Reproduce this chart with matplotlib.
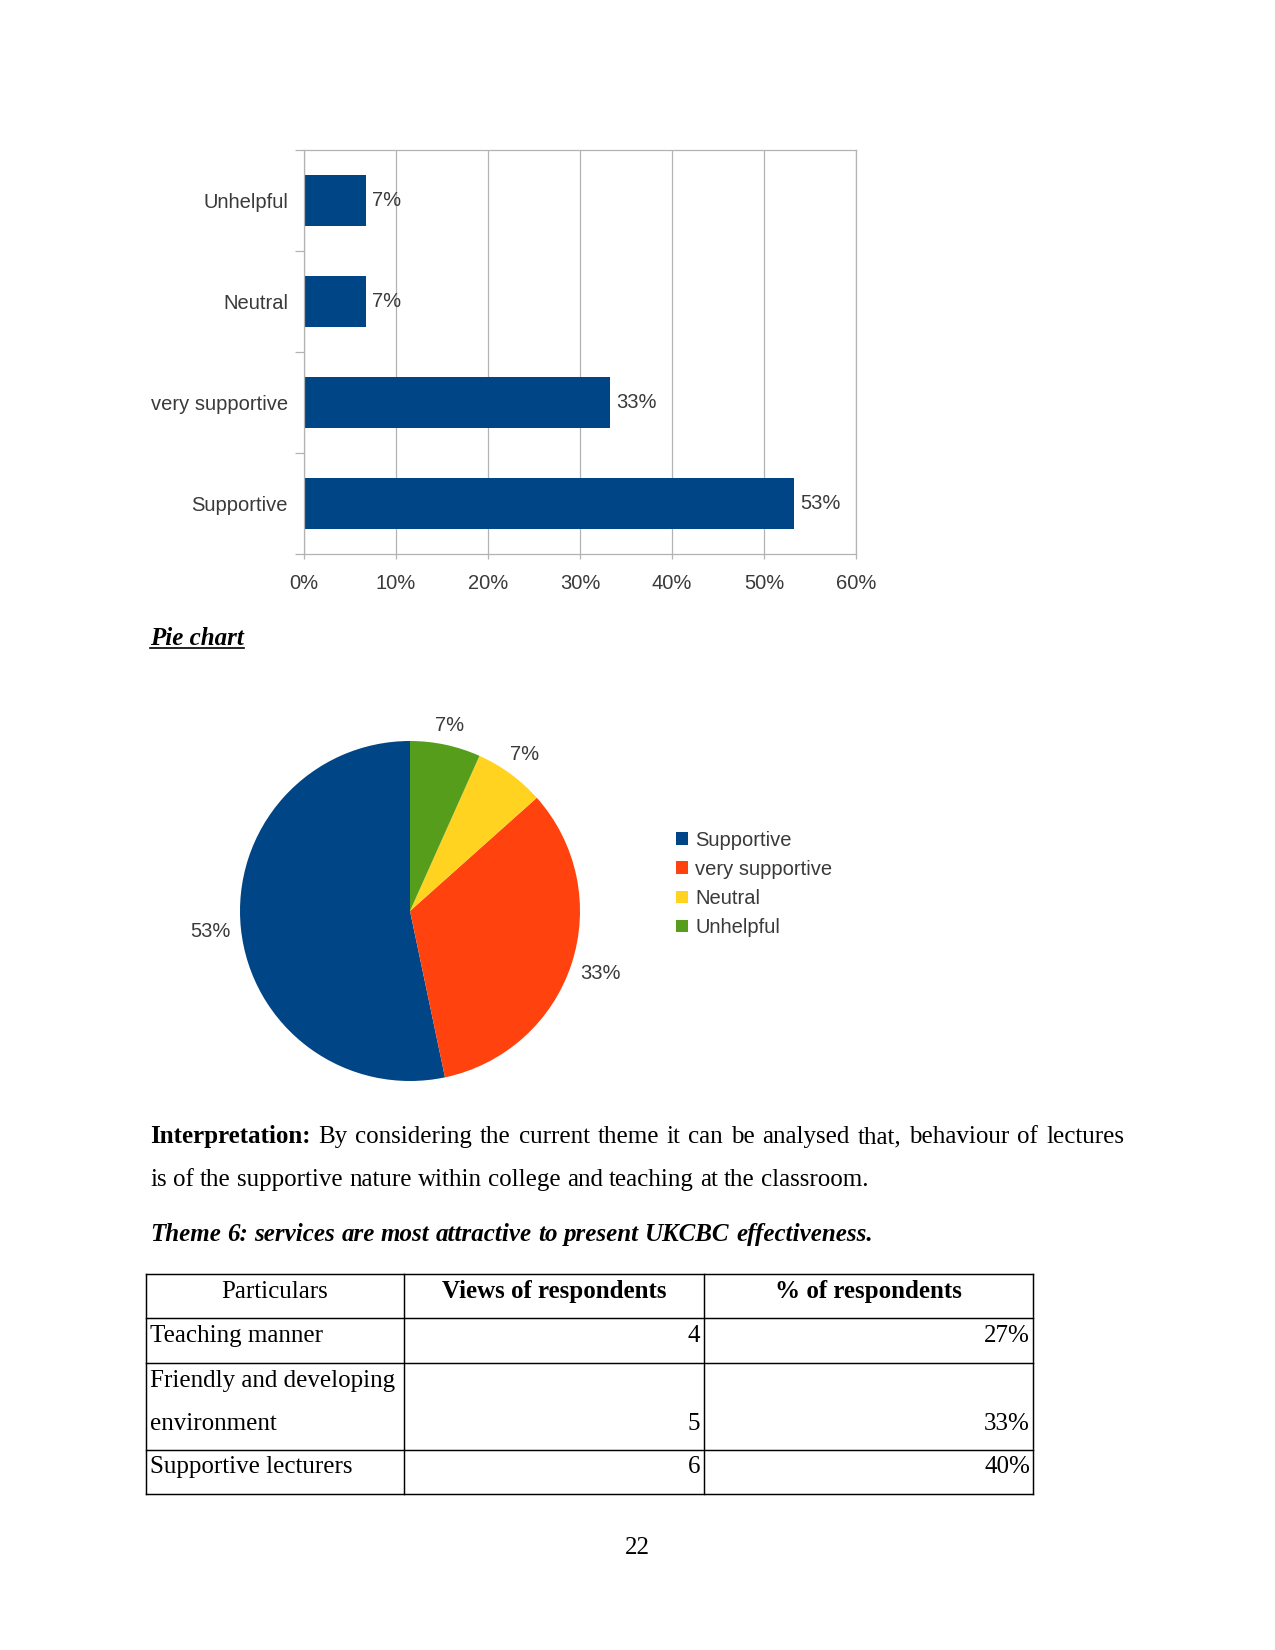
import numpy as np
import matplotlib
matplotlib.use('Agg')
import matplotlib.pyplot as plt
from matplotlib.ticker import PercentFormatter

# chart data
categories = ['Supportive', 'very supportive', 'Neutral', 'Unhelpful']
shares = [0.533, 0.333, 0.067, 0.067]
colors = ['#004586', '#ff420e', '#ffd320', '#579d1c']
x_ticks = [0, 0.1, 0.2, 0.3, 0.4, 0.5, 0.6]

# table data
headers = ['Particulars', 'Views of respondents', '% of respondents']
particulars = ['Teaching manner', 'Friendly and developing\nenvironment', 'Supportive lecturers']
views = [4, 5, 6]
pct_resp = ['27%', '33%', '40%']

W, H = 1275, 1650
SANS = 'Liberation Sans'
SERIF = 'Liberation Serif'
GREY = '#3a3a3a'
LINE = '#b3b3b3'
FS = 9.7


def box(l, t, r, b):
    return [l / W, 1 - b / H, (r - l) / W, (b - t) / H]


fig = plt.figure(figsize=(W / 150, H / 150), dpi=150)
fig.patch.set_facecolor('white')

# page layer in pixel coordinates (y down)
page = fig.add_axes([0, 0, 1, 1])
page.set_xlim(0, W)
page.set_ylim(H, 0)
page.axis('off')
page.patch.set_visible(False)

# ---- bar chart ----
ax = fig.add_axes(box(304, 150, 856, 554))
y_pos = np.arange(len(categories))
bars = ax.barh(y_pos, shares, height=0.5, color=colors[0])
ax.bar_label(bars, labels=[f'{v:.0%}' for v in shares], padding=3,
             fontsize=FS, color=GREY, family=SANS)
ax.set_xlim(0, 0.6)
ax.set_ylim(-0.5, len(categories) - 0.5)
ax.set_xticks(x_ticks)
ax.xaxis.set_major_formatter(PercentFormatter(1.0, decimals=0))
ax.set_yticks(y_pos, categories)
ax.set_yticks(np.arange(-0.5, len(categories), 1), minor=True)
ax.tick_params(axis='y', which='major', length=0, pad=7.7)
ax.tick_params(axis='y', which='minor', length=4.3, width=0.6, color=LINE)
ax.tick_params(axis='x', length=2.5, width=0.6, color=LINE, pad=7)
for lab in ax.get_xticklabels() + ax.get_yticklabels():
    lab.set_fontfamily(SANS)
    lab.set_fontsize(FS)
    lab.set_color(GREY)
ax.grid(axis='x', color=LINE, linewidth=0.6)
ax.set_axisbelow(True)
for sp in ax.spines.values():
    sp.set_color(LINE)
    sp.set_linewidth(0.6)

# ---- pie chart ----
ax2 = fig.add_axes(box(240, 741, 580, 1081))
wedges, _, autotexts = ax2.pie(
    shares, colors=colors, startangle=90, counterclock=True,
    autopct='%.0f%%', pctdistance=1.16, wedgeprops=dict(linewidth=0),
    textprops=dict(color=GREY, fontsize=FS, family=SANS))
ax2.set_xlim(-1, 1)
ax2.set_ylim(-1, 1)
ax2.legend(wedges, categories, loc='center left',
           bbox_to_anchor=(676 / W, 1 - 884 / H), bbox_transform=fig.transFigure,
           frameon=False, handlelength=0.6, handleheight=0.6, handletextpad=0.35,
           labelspacing=0.5, borderpad=0, borderaxespad=0,
           prop=dict(family=SANS, size=FS), labelcolor=GREY)

renderer = fig.canvas.get_renderer()

# keep a constant gap between the pie edge and each label box
px_per_unit = 170.0
for w, txt in zip(wedges, autotexts):
    th = np.deg2rad((w.theta1 + w.theta2) / 2)
    bb = txt.get_window_extent(renderer)
    hw = bb.width / 2 / px_per_unit
    hh = bb.height / 2 / px_per_unit * 0.8
    d = 1 + 0.055 + hw * abs(np.cos(th)) + hh * abs(np.sin(th))
    txt.set_position((d * np.cos(th), d * np.sin(th)))

# ---- text ----


def word_row(words, x0, y, x1=None, size=12):
    objs = []
    for w, weight, style in words:
        objs.append(page.text(x0, y, w, family=SERIF, fontsize=size, weight=weight,
                              style=style, va='baseline', ha='left'))
    widths = [t.get_window_extent(renderer).width for t in objs]
    if x1 is None:
        gap = size * 150 / 72 * 0.25
    else:
        gap = (x1 - x0 - sum(widths)) / (len(objs) - 1)
    x = x0
    for t, wd in zip(objs, widths):
        t.set_x(x)
        x += wd + gap
    return objs


t = page.text(150, 645, 'Pie chart', family=SERIF, fontsize=12, weight='bold',
              style='italic', va='baseline', ha='left')
wd = t.get_window_extent(renderer).width
page.plot([150, 150 + wd], [648, 648], color='black', lw=0.8)

line1 = [('Interpretation:', 'bold', 'normal')] + [
    (w, 'normal', 'normal') for w in
    'By considering the current theme it can be analysed that, behaviour of lectures'.split()]
word_row(line1, 150, 1143, x1=1124)
line2 = [(w, 'normal', 'normal') for w in
         'is of the supportive nature within college and teaching at the classroom.'.split()]
word_row(line2, 150, 1186)
line3 = [(w, 'bold', 'italic') for w in
         'Theme 6: services are most attractive to present UKCBC effectiveness.'.split()]
word_row(line3, 150, 1241)

# ---- table ----
col_x = [146, 404, 704, 1033]
row_y = [1274, 1318, 1363, 1450, 1494]
for yy in row_y:
    page.plot([col_x[0], col_x[-1]], [yy, yy], color='black', lw=0.7)
for xx in col_x:
    page.plot([xx, xx], [row_y[0], row_y[-1]], color='black', lw=0.7)

for i, h in enumerate(headers):
    page.text((col_x[i] + col_x[i + 1]) / 2, 1298, h, family=SERIF, fontsize=12,
              weight='normal' if i == 0 else 'bold', ha='center', va='baseline')

first_base = [1342, 1387, 1473]
for i, name in enumerate(particulars):
    lines = name.split('\n')
    for k, ln in enumerate(lines):
        page.text(150, first_base[i] + k * 43, ln, family=SERIF, fontsize=12,
                  ha='left', va='baseline')
    yb = first_base[i] + (len(lines) - 1) * 43
    page.text(col_x[2] - 4, yb, str(views[i]), family=SERIF, fontsize=12,
              ha='right', va='baseline')
    page.text(col_x[3] - 3, yb, pct_resp[i], family=SERIF, fontsize=12,
              ha='right', va='baseline')

page.text(637, 1554, '22', family=SERIF, fontsize=12, ha='center', va='baseline')

fig.savefig('out.png', dpi=150, facecolor='white')
